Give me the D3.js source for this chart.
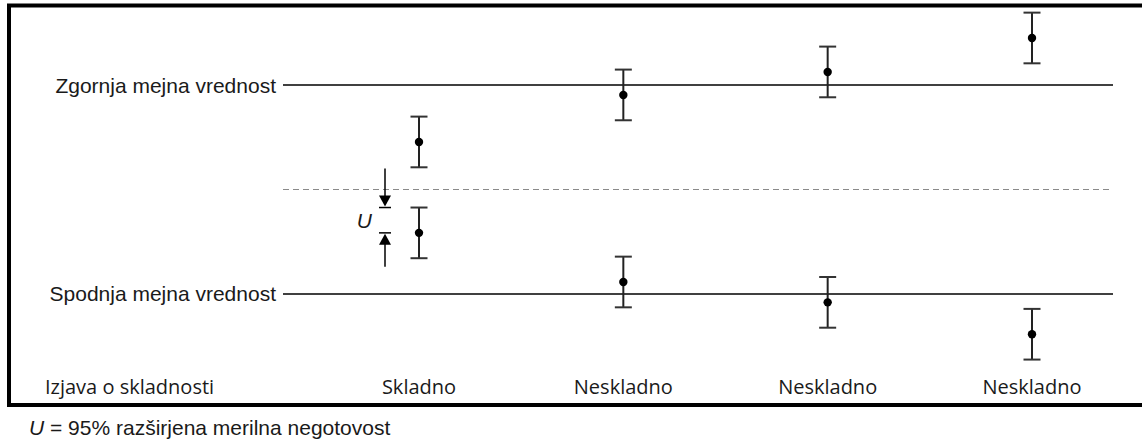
<!DOCTYPE html>
<html>
<head>
<meta charset="utf-8">
<script src="https://cdn.jsdelivr.net/npm/d3@7"></script>
<style>
body{margin:0;background:#fff;}
svg{display:block;}
</style>
</head>
<body>
<svg id="chart" width="1142" height="441"></svg>
<script>
// categories / statements
var izjave = ["Skladno", "Neskladno", "Neskladno", "Neskladno"];
// measured results (two per case), expanded uncertainty U
var zgornjiRezultati = [69.1, 78.1, 82.5, 89.0];
var spodnjiRezultati = [51.7, 42.3, 38.4, 32.3];
var U = 4.85;
var spodnjaMeja = 40, zgornjaMeja = 80;
var sredina = (spodnjaMeja + zgornjaMeja) / 2;

var svg = d3.select("#chart");
var font = "'Liberation Sans', Arial, sans-serif";
var font2 = "'Open Sans', 'Noto Sans', sans-serif";

var x = d3.scalePoint()
  .domain(d3.range(izjave.length))
  .range([419, 1032]);
var y = d3.scaleLinear()
  .domain([spodnjaMeja, zgornjaMeja])
  .range([294, 85]);

// frame
svg.append("rect")
  .attr("x", 9).attr("y", 5.5)
  .attr("width", 1140).attr("height", 399.5)
  .style("fill", "none").style("stroke", "#000").style("stroke-width", 4);

// limit lines
var lineX0 = 283, lineX1 = 1113;
[zgornjaMeja, spodnjaMeja].forEach(function(v){
  svg.append("line")
    .attr("x1", lineX0).attr("x2", lineX1)
    .attr("y1", y(v)).attr("y2", y(v))
    .style("stroke", "#000").style("stroke-width", 1.6);
});
svg.append("line")
  .attr("x1", lineX0).attr("x2", lineX1)
  .attr("y1", y(sredina)).attr("y2", y(sredina))
  .style("stroke", "#8a8a8a").style("stroke-width", 1.2)
  .style("stroke-dasharray", "6,4");

svg.append("text").attr("x", 276).attr("y", y(zgornjaMeja) + 8)
  .attr("text-anchor", "end").style("font-family", font).style("font-size", "21px")
  .style("fill", "#1a1a1a").text("Zgornja mejna vrednost");
svg.append("text").attr("x", 276).attr("y", y(spodnjaMeja) + 7)
  .attr("text-anchor", "end").style("font-family", font).style("font-size", "21px")
  .style("fill", "#1a1a1a").text("Spodnja mejna vrednost");

// error bars
var tocke = [];
zgornjiRezultati.forEach(function(v, i){ tocke.push({i: i, v: v}); });
spodnjiRezultati.forEach(function(v, i){ tocke.push({i: i, v: v}); });

var g = svg.append("g").selectAll("g").data(tocke).enter().append("g");
g.append("line")
  .attr("x1", function(d){return x(d.i);}).attr("x2", function(d){return x(d.i);})
  .attr("y1", function(d){return y(d.v + U);}).attr("y2", function(d){return y(d.v - U);})
  .style("stroke", "#222").style("stroke-width", 2);
[1, -1].forEach(function(s){
  g.append("line")
    .attr("x1", function(d){return x(d.i) - 8.5;}).attr("x2", function(d){return x(d.i) + 8.5;})
    .attr("y1", function(d){return y(d.v + s * U);}).attr("y2", function(d){return y(d.v + s * U);})
    .style("stroke", "#333").style("stroke-width", 2);
});
g.append("circle")
  .attr("cx", function(d){return x(d.i);})
  .attr("cy", function(d){return y(d.v);})
  .attr("r", 4.2).style("fill", "#000");

// U annotation on the lower "Skladno" result
var ax = x(0) - 34;
var yTop = y(spodnjiRezultati[0] + U), yMid = y(spodnjiRezultati[0]);
var ann = svg.append("g").style("stroke", "#000").style("stroke-width", 1.5);
ann.append("line").attr("x1", ax).attr("x2", ax).attr("y1", yTop - 39).attr("y2", yTop - 10);
ann.append("line").attr("x1", ax - 6).attr("x2", ax + 6).attr("y1", yTop).attr("y2", yTop);
ann.append("line").attr("x1", ax).attr("x2", ax).attr("y1", yMid + 10).attr("y2", yMid + 34);
ann.append("line").attr("x1", ax - 6).attr("x2", ax + 6).attr("y1", yMid).attr("y2", yMid);
svg.append("path")
  .attr("d", "M" + (ax - 6) + "," + (yTop - 12) + "L" + (ax + 6) + "," + (yTop - 12) + "L" + ax + "," + (yTop - 1) + "Z")
  .style("fill", "#000");
svg.append("path")
  .attr("d", "M" + (ax - 6) + "," + (yMid + 12) + "L" + (ax + 6) + "," + (yMid + 12) + "L" + ax + "," + (yMid + 1) + "Z")
  .style("fill", "#000");
svg.append("text").attr("x", ax - 13).attr("y", (yTop + yMid) / 2 + 8)
  .attr("text-anchor", "end").style("font-family", font).style("font-size", "21px")
  .style("font-style", "italic").style("fill", "#1a1a1a").text("U");

// bottom row: statements
svg.append("text").attr("x", 45).attr("y", 394)
  .style("font-family", font2).style("font-size", "20px").style("fill", "#1a1a1a")
  .text("Izjava o skladnosti");
svg.selectAll(".izjava").data(izjave).enter().append("text")
  .attr("class", "izjava")
  .attr("x", function(d, i){return x(i);}).attr("y", 394)
  .attr("text-anchor", "middle")
  .style("font-family", font2).style("font-size", "20px").style("fill", "#1a1a1a")
  .text(function(d){return d;});

// footnote
var fn = svg.append("text").attr("x", 29).attr("y", 435)
  .style("font-family", font).style("font-size", "21px").style("fill", "#1a1a1a");
fn.append("tspan").style("font-style", "italic").text("U");
fn.append("tspan").text(" = 95% razširjena merilna negotovost");
</script>
</body>
</html>
